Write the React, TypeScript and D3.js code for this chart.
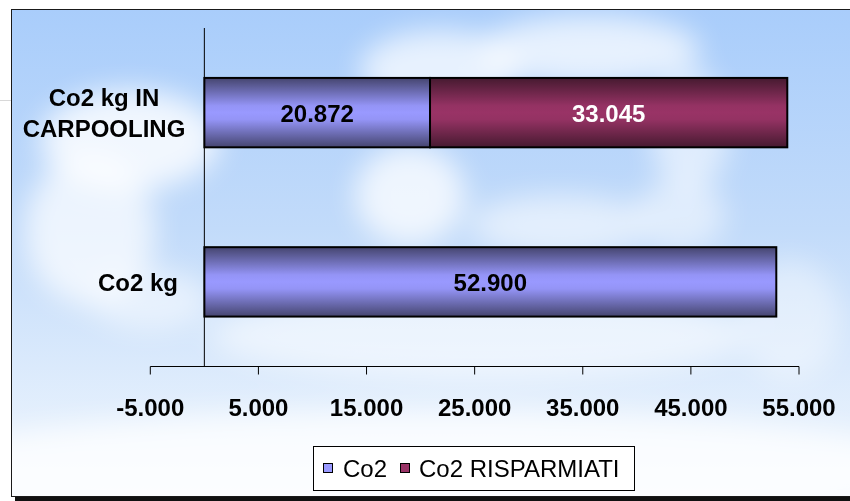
import { formatLocale, scaleBand, scaleLinear } from "d3";

const categories = ["Co2 kg IN CARPOOLING", "Co2 kg"];
const categoryLines = [["Co2 kg IN", "CARPOOLING"], ["Co2 kg"]];
const seriesNames = ["Co2", "Co2 RISPARMIATI"];
const co2 = [20872, 52900];
const co2Risparmiati = [33045, 0];
const ticks = [-5000, 5000, 15000, 25000, 35000, 45000, 55000];

const it = formatLocale({
  decimal: ",",
  thousands: ".",
  grouping: [3],
  currency: ["€", ""],
  minus: "-",
});
const fmt = it.format(",.0f");

const W = 850;
const H = 501;
const font = "'Liberation Sans', Arial, sans-serif";

export default function App() {
  const x = scaleLinear().domain([-5000, 55000]).range([150.3, 799]);
  const y = scaleBand().domain(categories).range([28, 366.5]).padding(0);
  const barH = y.bandwidth() * 0.41;
  const axisY = 366.5;

  const series = [
    { name: seriesNames[0], values: co2, fill: "url(#grad-blue)", text: "#000" },
    { name: seriesNames[1], values: co2Risparmiati, fill: "url(#grad-red)", text: "#fff" },
  ];

  return (
    <svg
      width={W}
      height={H}
      style={{ position: "absolute", left: 0, top: 0 }}
      fontFamily={font}
    >
      <defs>
        <linearGradient id="sky" x1="0" y1="0" x2="0" y2="1">
          <stop offset="0%" stopColor="#a9cdfb" />
          <stop offset="45%" stopColor="#c2dbfa" />
          <stop offset="100%" stopColor="#f2f8fe" />
        </linearGradient>
        <linearGradient id="grad-blue" x1="0" y1="0" x2="0" y2="1">
          <stop offset="0%" stopColor="#45456f" />
          <stop offset="40%" stopColor="#9494f6" />
          <stop offset="50%" stopColor="#9999ff" />
          <stop offset="60%" stopColor="#9494f6" />
          <stop offset="100%" stopColor="#45456f" />
        </linearGradient>
        <linearGradient id="grad-red" x1="0" y1="0" x2="0" y2="1">
          <stop offset="0%" stopColor="#461a30" />
          <stop offset="40%" stopColor="#943263" />
          <stop offset="50%" stopColor="#993366" />
          <stop offset="60%" stopColor="#943263" />
          <stop offset="100%" stopColor="#461a30" />
        </linearGradient>
        <filter id="blur" x="-50%" y="-50%" width="200%" height="200%">
          <feGaussianBlur stdDeviation="14" />
        </filter>
        <clipPath id="frame">
          <rect x={11} y={9} width={W} height={488} />
        </clipPath>
      </defs>

      {/* stray line left of frame */}
      <line x1={0} x2={11} y1={100.5} y2={100.5} stroke="#d8d8d8" />

      {/* sky background */}
      <g clipPath="url(#frame)">
        <rect x={11} y={9} width={W} height={488} fill="url(#sky)" />
        <g filter="url(#blur)" fill="#ffffff">
          <ellipse cx={130} cy={140} rx={90} ry={50} opacity={0.8} />
          <ellipse cx={90} cy={230} rx={65} ry={75} opacity={0.7} />
          <ellipse cx={150} cy={300} rx={60} ry={30} opacity={0.5} />
          <ellipse cx={440} cy={70} rx={80} ry={40} opacity={0.7} />
          <ellipse cx={590} cy={50} rx={110} ry={35} opacity={0.7} />
          <ellipse cx={690} cy={130} rx={40} ry={60} opacity={0.55} />
          <ellipse cx={410} cy={195} rx={55} ry={50} opacity={0.75} />
          <ellipse cx={560} cy={225} rx={90} ry={30} opacity={0.55} />
          <ellipse cx={680} cy={215} rx={45} ry={35} opacity={0.5} />
          <ellipse cx={480} cy={335} rx={270} ry={45} opacity={0.55} />
          <ellipse cx={790} cy={320} rx={50} ry={60} opacity={0.4} />
          <ellipse cx={425} cy={470} rx={520} ry={60} opacity={0.75} />
        </g>
      </g>

      {/* frame */}
      <rect x={11.5} y={9.5} width={W} height={487} fill="none" stroke="#1a1a1a" />
      <rect x={15} y={497} width={W} height={4} fill="#111" />

      {/* category axis */}
      <line x1={x(0)} x2={x(0)} y1={28} y2={axisY} stroke="#000" />

      {/* value axis */}
      <line x1={x(-5000)} x2={x(55000)} y1={axisY} y2={axisY} stroke="#000" />
      {ticks.map((t) => (
        <g key={t}>
          <line x1={x(t)} x2={x(t)} y1={axisY} y2={axisY + 8} stroke="#000" />
          <text
            x={x(t)}
            y={416}
            textAnchor="middle"
            fontSize={24}
            fontWeight="bold"
          >
            {fmt(t)}
          </text>
        </g>
      ))}

      {/* bars */}
      {series.map((s, si) =>
        categories.map((c, ci) => {
          const v = s.values[ci];
          if (!v) return null;
          const start = si === 0 ? 0 : series[0].values[ci];
          const x0 = x(start);
          const x1 = x(start + v);
          const yc = (y(c) ?? 0) + y.bandwidth() / 2;
          return (
            <g key={`${si}-${ci}`}>
              <rect
                x={x0}
                y={yc - barH / 2}
                width={x1 - x0}
                height={barH}
                fill={s.fill}
                stroke="#000"
                strokeWidth={2}
              />
              <text
                x={(x0 + x1) / 2}
                y={yc + 9}
                textAnchor="middle"
                fontSize={24}
                fontWeight="bold"
                fill={s.text}
              >
                {fmt(v)}
              </text>
            </g>
          );
        })
      )}

      {/* category labels */}
      {categories.map((c, ci) => {
        const lines = categoryLines[ci];
        const yc = (y(c) ?? 0) + y.bandwidth() / 2;
        const lh = 31;
        const first = yc + 9 - ((lines.length - 1) * lh) / 2;
        const cx = lines.length > 1 ? 104 : 138;
        return (
          <text key={c} textAnchor="middle" fontSize={24} fontWeight="bold">
            {lines.map((l, li) => (
              <tspan key={li} x={cx} y={first + li * lh}>
                {l}
              </tspan>
            ))}
          </text>
        );
      })}

      {/* legend */}
      <g>
        <rect x={313.5} y={446.5} width={321} height={44} fill="#fff" stroke="#000" />
        <rect x={323.5} y={463.5} width={9} height={9} fill="#9999ff" stroke="#000" />
        <text x={343} y={477} fontSize={24}>
          {seriesNames[0]}
        </text>
        <rect x={400.5} y={463.5} width={9} height={9} fill="#993366" stroke="#000" />
        <text x={419} y={477} fontSize={24}>
          {seriesNames[1]}
        </text>
      </g>
    </svg>
  );
}
